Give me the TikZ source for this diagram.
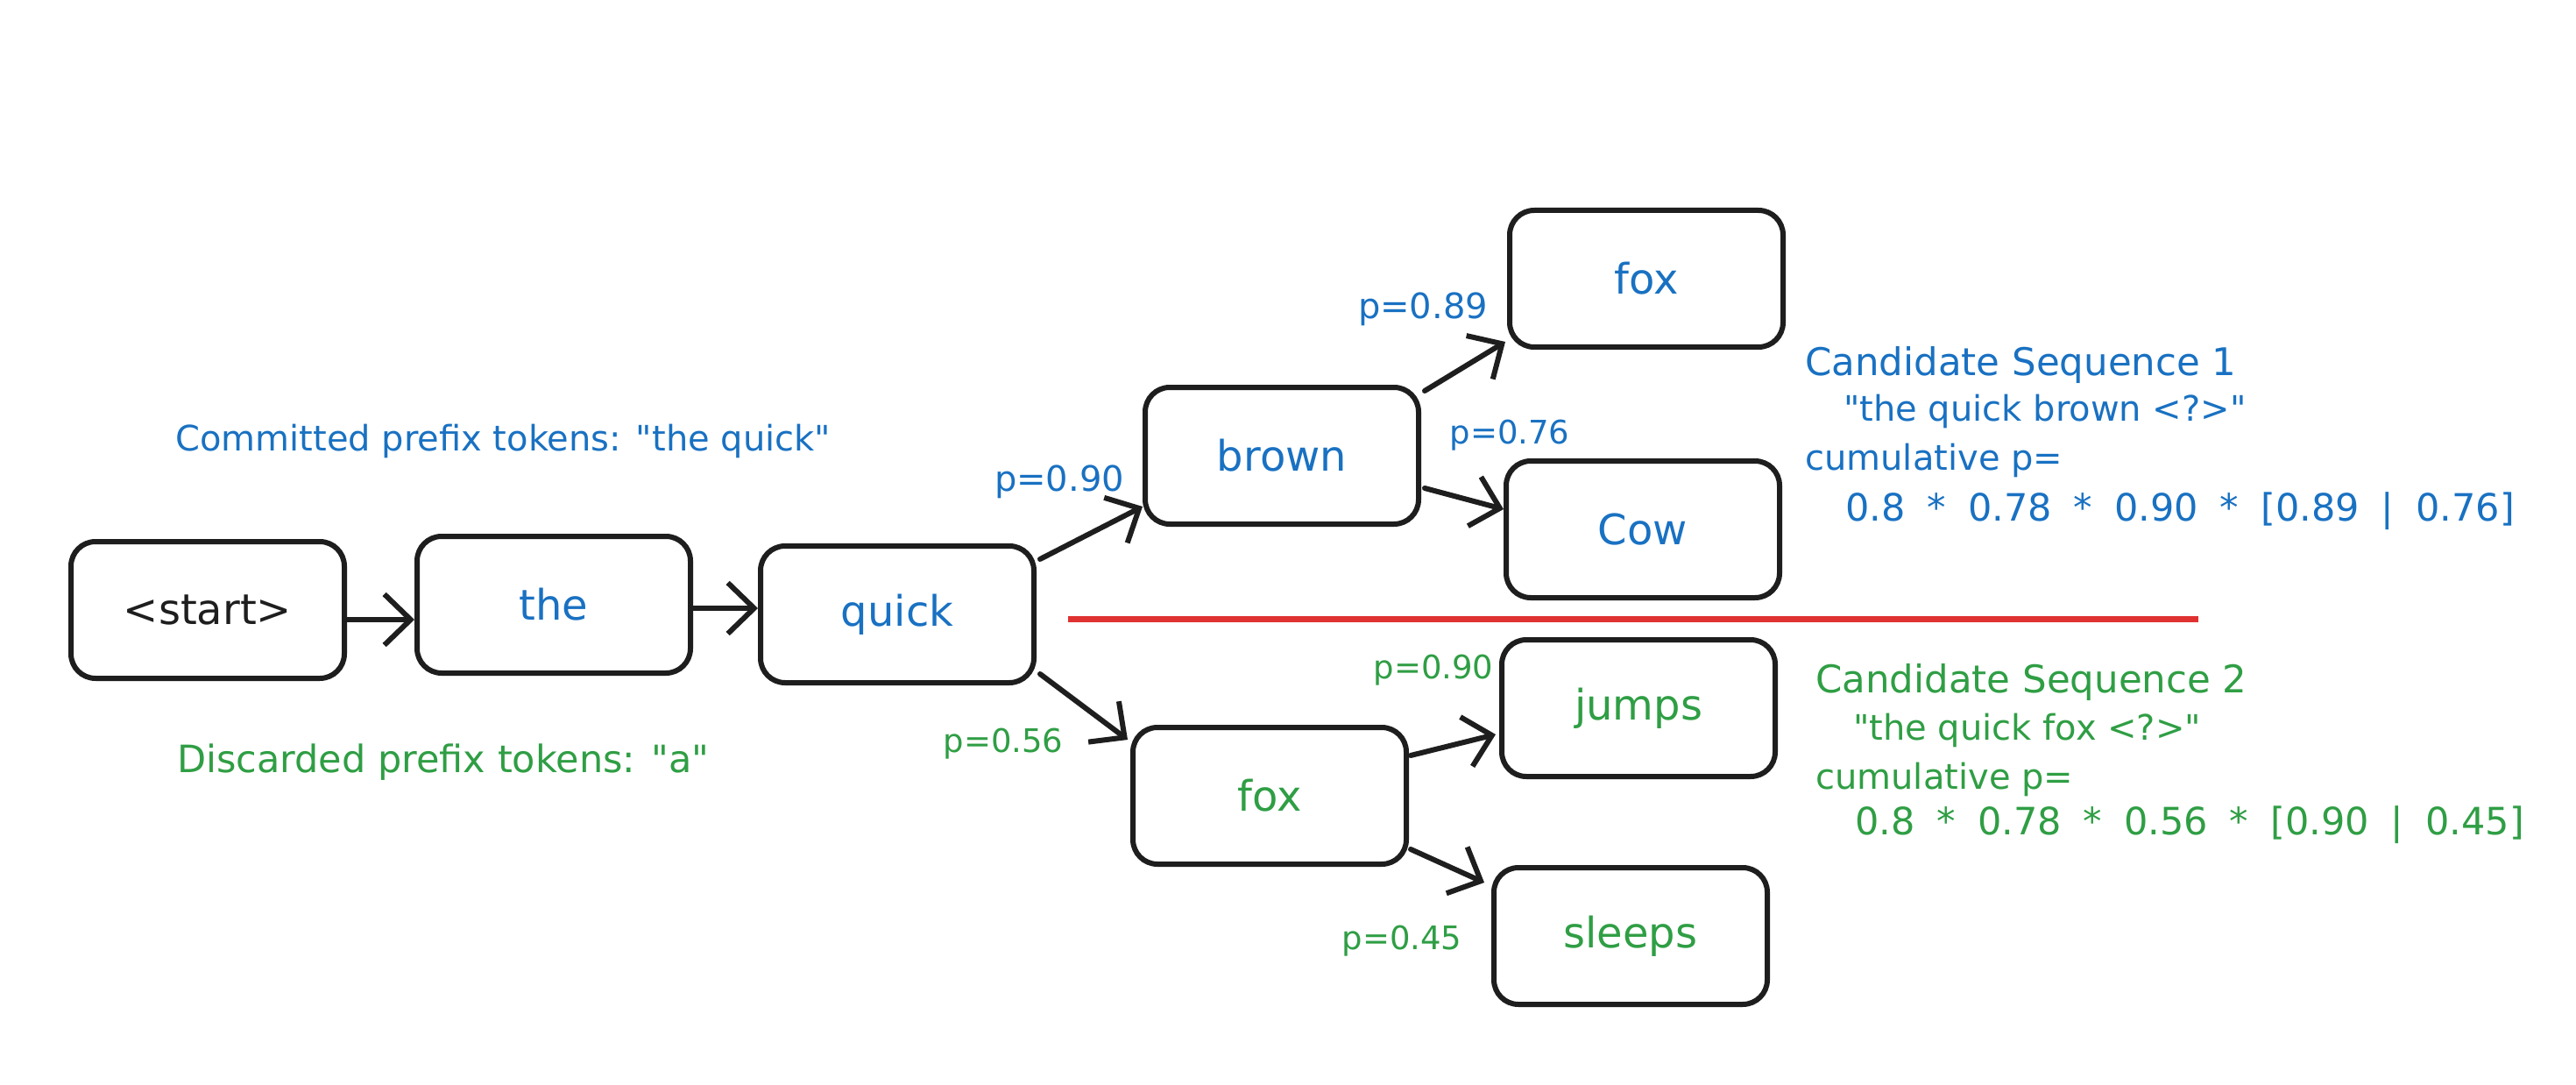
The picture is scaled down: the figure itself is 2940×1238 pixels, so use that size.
\documentclass[tikz,border=0pt]{standalone}
\usepackage{fontspec}
\setmainfont{DejaVu Sans}[Ligatures=TeXOff]
\usetikzlibrary{arrows.meta,calc}
\definecolor{exblue}{HTML}{1971C2}
\definecolor{exgreen}{HTML}{2F9E44}
\definecolor{exred}{HTML}{E03131}
\definecolor{exblack}{HTML}{1E1E1E}
\newcommand{\numgap}{\hspace{25pt}}
\begin{document}
\begin{tikzpicture}[x=1pt,y=-1pt,
  tok/.style={draw=exblack, line width=6pt, rounded corners=28pt, minimum width=312pt, minimum height=156pt, inner sep=0pt, font=\fontsize{48}{56}\selectfont},
  arr/.style={draw=exblack, line width=6pt, line cap=round, -{Straight Barb[length=30pt,width=58pt]}},
  ann/.style={anchor=west, inner sep=0pt, font=\fontsize{40}{48}\selectfont},
  annb/.style={anchor=west, inner sep=0pt, font=\fontsize{43}{48}\selectfont},
  plab/.style={inner sep=0pt, font=\fontsize{40}{48}\selectfont},
  plabs/.style={inner sep=0pt, font=\fontsize{37}{44}\selectfont},
  cand/.style={anchor=west, inner sep=0pt, font=\fontsize{40}{48}\selectfont},
  candhead/.style={anchor=west, inner sep=0pt, font=\fontsize{43.5}{48}\selectfont},
  candnum/.style={anchor=west, inner sep=0pt, font=\fontsize{43}{50}\selectfont},
]
\useasboundingbox[fill=white] (0,0) rectangle (2940,1238);

% token boxes
\node[tok, text=exblack] (start) at (237,696) {<start>};
\node[tok, text=exblue] (the) at (632,690) {the};
\node[tok, text=exblue] (quick) at (1024,701) {quick};
\node[tok, text=exblue] (brown) at (1463,520) {brown};
\node[tok, text=exblue] (foxA) at (1879,318) {fox};
\node[tok, text=exblue] (cow) at (1875,604) {Cow};
\node[tok, text=exgreen] (foxB) at (1449,908) {fox};
\node[tok, text=exgreen] (jumps) at (1870,808) {jumps};
\node[tok, text=exgreen] (sleeps) at (1861,1068) {sleeps};

% connectors
\draw[arr] ([yshift=-11pt]start.east) -- ([yshift=-17pt]the.west);
\draw[arr] ([yshift=-4pt]the.east) -- ([yshift=7pt]quick.west);
\draw[arr] ([xshift=4pt,yshift=63pt]quick.east) -- ([yshift=-58pt]brown.west);
\draw[arr] ([xshift=4pt,yshift=-68pt]quick.east) -- ([xshift=-3pt,yshift=64pt]foxB.west);
\draw[arr] ([xshift=4pt,yshift=74pt]brown.east) -- ([xshift=-2pt,yshift=-72pt]foxA.west);
\draw[arr] ([xshift=4pt,yshift=-37pt]brown.east) -- ([yshift=23pt]cow.west);
\draw[arr] ([xshift=2pt,yshift=46pt]foxB.east) -- ([xshift=-4pt,yshift=-30pt]jumps.west);
\draw[arr] ([xshift=2pt,yshift=-61pt]foxB.east) -- ([xshift=-8pt,yshift=61pt]sleeps.west);

% divider
\coordinate (divL) at (1219,706);
\coordinate (divR) at (2509,706);
\draw[exred, line width=7pt] (divL) -- (divR);

% annotations
\node[ann, text=exblue] (commit) at (200,503) {Committed prefix tokens: "the quick"};
\node[annb, text=exgreen] (discard) at (202,870) {Discarded prefix tokens: "a"};

% probability labels
\node[plab, text=exblue] (p1) at (1209,550) {p=0.90};
\node[plabs, text=exgreen] (p2) at (1145,849) {p=0.56};
\node[plab, text=exblue] (p3) at (1624,353) {p=0.89};
\node[plabs, text=exblue] (p4) at (1723,497) {p=0.76};
\node[plabs, text=exgreen] (p5) at (1636,765) {p=0.90};
\node[plabs, text=exgreen] (p6) at (1600,1074) {p=0.45};

% candidate sequences
\node[candhead, text=exblue] (c1a) at (2060,416) {Candidate Sequence 1};
\node[cand, text=exblue] (c1b) at (2104,469) {"the quick brown <?>"};
\node[cand, text=exblue] (c1c) at (2060,525) {cumulative p=};
\node[candnum, text=exblue] (c1d) at (2106,583) {0.8\numgap*\numgap0.78\numgap*\numgap0.90\numgap*\numgap[0.89\numgap|\numgap0.76]};
\node[candhead, text=exgreen] (c2a) at (2072,778) {Candidate Sequence 2};
\node[cand, text=exgreen] (c2b) at (2115,833) {"the quick fox <?>"};
\node[cand, text=exgreen] (c2c) at (2072,889) {cumulative p=};
\node[candnum, text=exgreen] (c2d) at (2117,941) {0.8\numgap*\numgap0.78\numgap*\numgap0.56\numgap*\numgap[0.90\numgap|\numgap0.45]};
\end{tikzpicture}
\end{document}
